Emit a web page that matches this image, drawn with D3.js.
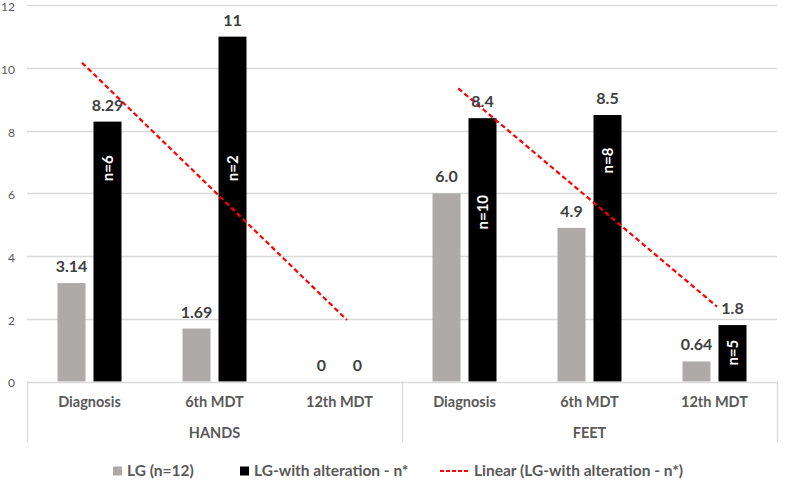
<!DOCTYPE html>
<html>
<head>
<meta charset="utf-8">
<script src="https://cdn.jsdelivr.net/npm/d3@7"></script>
<style>
  html, body { margin: 0; padding: 0; background: #fff; }
  svg { display: block; font-family: Lato, "Open Sans", sans-serif; }
</style>
</head>
<body>
<svg id="chart" width="800" height="496"></svg>
<script>
// ---- data ----
const groups = ["HANDS", "FEET"];
const categories = ["Diagnosis", "6th MDT", "12th MDT"];
const seriesNames = ["LG (n=12)", "LG-with alteration - n*"];
const lgValues = [3.14, 1.69, 0, 6.0, 4.9, 0.64];
const lgLabels = ["3.14", "1.69", "0", "6.0", "4.9", "0.64"];
const altValues = [8.29, 11, 0, 8.4, 8.5, 1.8];
const altLabels = ["8.29", "11", "0", "8.4", "8.5", "1.8"];
const nLabels = ["n=6", "n=2", "", "n=10", "n=8", "n=5"];
const nLabelAt = [6.8, 6.8, 0, 5.4, 7.05, 0.92];      // value where the n label is centred
const trendName = "Linear (LG-with alteration - n*)";
// trend line endpoints: [category index, value]
const trendHands = [[-0.06, 10.17], [2.06, 1.96]];
const trendFeet = [[2.95, 9.35], [5.02, 2.39]];
const yTicks = [0, 2, 4, 6, 8, 10, 12];

// ---- layout ----
const svg = d3.select("#chart");
const plotL = 27, plotR = 777, plotT = 5.3, plotB = 381.5;
const keys = d3.range(groups.length * categories.length);

const x0 = d3.scaleBand().domain(keys).range([plotL, plotR]).paddingInner(0).paddingOuter(0);
const x1 = d3.scaleBand().domain([0, 1]).range([30.5, 94.5]).paddingInner(0.222).paddingOuter(0);
const xi = d3.scaleLinear().domain([0, 5]).range([x0(0) + x0.bandwidth() / 2, x0(5) + x0.bandwidth() / 2]);
const y = d3.scaleLinear().domain([0, 12]).range([plotB, plotT]);

const gridColor = "#d9d9d9";
const textGrey = "#595959";
const labelColor = "#404040";
const colors = ["#aeaaaa", "#000000"];

// gridlines
svg.append("g").selectAll("line").data(yTicks.filter(d => d > 0)).join("line")
  .attr("x1", plotL).attr("x2", plotR)
  .attr("y1", d => Math.round(y(d)) + 0.5).attr("y2", d => Math.round(y(d)) + 0.5)
  .attr("stroke", gridColor).attr("stroke-width", 1.3);

// y axis labels
const yAxis = d3.axisLeft(y).tickValues(yTicks).tickSize(0).tickPadding(0);
const ya = svg.append("g").attr("transform", `translate(15,1.2)`).call(yAxis);
ya.select(".domain").remove();
ya.selectAll("text").attr("fill", textGrey).style("font-size", "12px")
  .style("font-family", "Lato, sans-serif").attr("dy", "0.35em");

// bars
const bars = svg.append("g");
[lgValues, altValues].forEach((vals, s) => {
  bars.selectAll(null).data(vals).join("rect")
    .attr("x", (d, i) => x0(i) + x1(s))
    .attr("width", x1.bandwidth())
    .attr("y", d => y(d))
    .attr("height", d => y(0) - y(d))
    .attr("fill", colors[s]);
});

// category axis line & group separators
svg.append("line").attr("x1", plotL).attr("x2", plotR)
  .attr("y1", Math.round(plotB) + 0.5).attr("y2", Math.round(plotB) + 0.5)
  .attr("stroke", gridColor).attr("stroke-width", 1.3);
const seps = [0, 3, 6].map(i => i < 6 ? x0(i) : plotR);
svg.append("g").selectAll("line").data(seps).join("line")
  .attr("x1", d => Math.round(d) + 0.5).attr("x2", d => Math.round(d) + 0.5)
  .attr("y1", plotB).attr("y2", 442)
  .attr("stroke", gridColor).attr("stroke-width", 1.3);

// category labels
svg.append("g").selectAll("text").data(keys).join("text")
  .attr("x", i => x0(i) + x0.bandwidth() / 2)
  .attr("y", 407)
  .attr("text-anchor", "middle")
  .attr("fill", textGrey).style("font-size", "14.5px").style("font-weight", "bold")
  .text(i => categories[i % categories.length]);

// group labels
svg.append("g").selectAll("text").data(groups).join("text")
  .attr("x", (d, g) => (x0(g * 3) + (g * 3 + 3 < 6 ? x0(g * 3 + 3) : plotR)) / 2)
  .attr("y", 438)
  .attr("text-anchor", "middle")
  .attr("fill", textGrey).style("font-size", "14.5px").style("font-weight", "bold")
  .text(d => d);

// trend lines
const line = d3.line().x(d => xi(d[0])).y(d => y(d[1]));
[trendHands, trendFeet].forEach(t => {
  svg.append("path").attr("d", line(t))
    .attr("fill", "none").attr("stroke", "#ff0000")
    .attr("stroke-width", 2.2).attr("stroke-dasharray", "5,3");
});

// value labels
[[lgValues, lgLabels], [altValues, altLabels]].forEach(([vals, labs], s) => {
  svg.append("g").selectAll("text").data(vals).join("text")
    .attr("x", (d, i) => x0(i) + x1(s) + x1.bandwidth() / 2)
    .attr("y", d => y(d) - 11)
    .attr("text-anchor", "middle")
    .attr("fill", labelColor).style("font-size", "16px").style("font-weight", "bold")
    .text((d, i) => labs[i]);
});

// n labels inside black bars (rotated)
svg.append("g").selectAll("text").data(nLabels).join("text")
  .attr("transform", (d, i) => `translate(${x0(i) + x1(1) + x1.bandwidth() / 2},${y(nLabelAt[i])}) rotate(-90)`)
  .attr("text-anchor", "middle").attr("dy", "0.35em")
  .attr("fill", "#ffffff").style("font-size", "15px").style("font-weight", "bold")
  .text(d => d);

// legend
const lg = svg.append("g");
const legendY = 471;
const legendX = [113, 240];
seriesNames.forEach((n, s) => {
  lg.append("rect").attr("x", legendX[s]).attr("y", legendY - 4.5).attr("width", 9).attr("height", 9).attr("fill", colors[s]);
  lg.append("text").attr("x", legendX[s] + 14).attr("y", legendY).attr("dy", "0.35em")
    .attr("fill", textGrey).style("font-size", "15.5px").style("font-weight", "bold").text(n);
});
lg.append("line").attr("x1", 440).attr("x2", 469).attr("y1", legendY).attr("y2", legendY)
  .attr("stroke", "#ff0000").attr("stroke-width", 2.2).attr("stroke-dasharray", "4,2");
lg.append("text").attr("x", 474).attr("y", legendY).attr("dy", "0.35em")
  .attr("fill", textGrey).style("font-size", "15.5px").style("font-weight", "bold").text(trendName);
</script>
</body>
</html>
